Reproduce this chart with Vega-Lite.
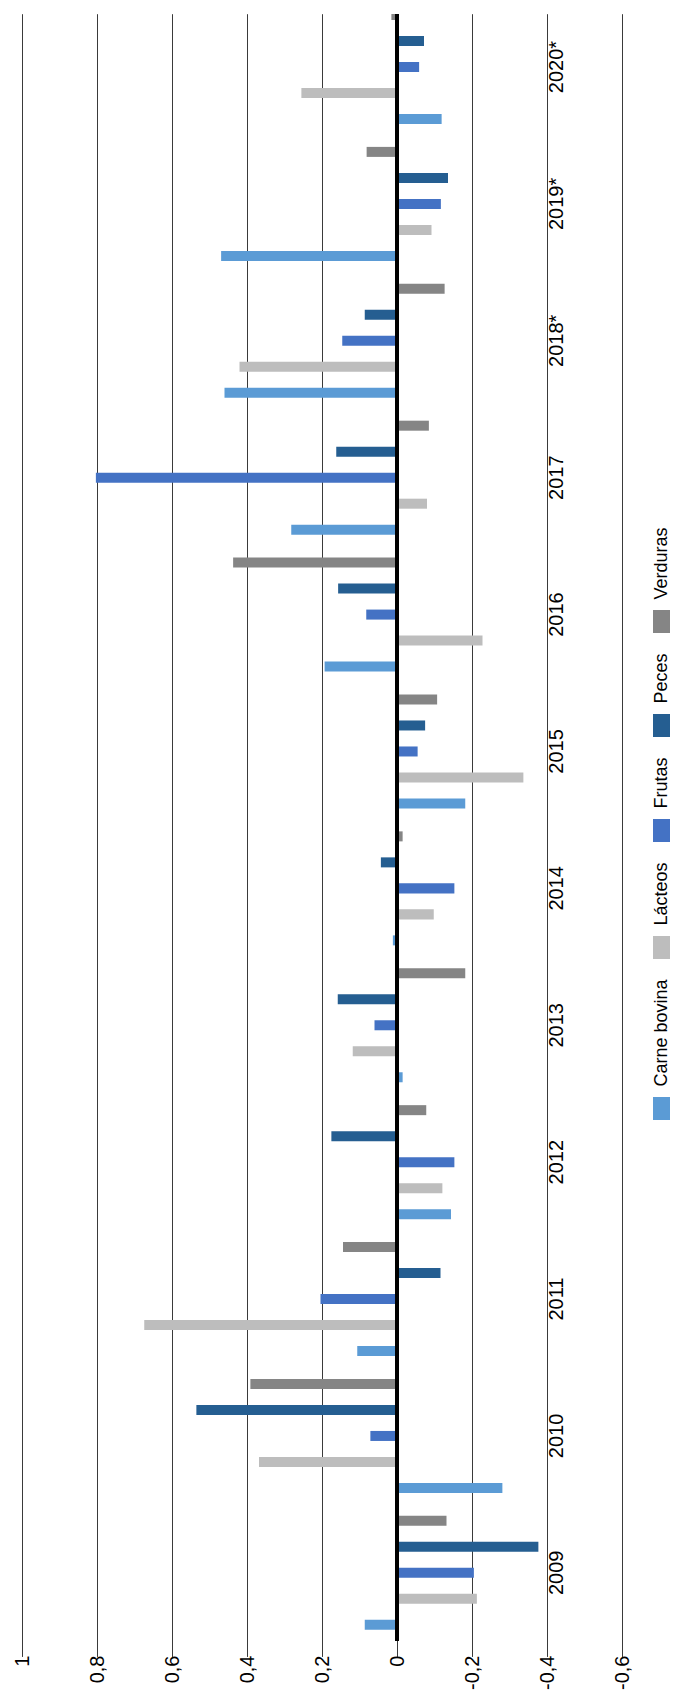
{
  "$schema": "https://vega.github.io/schema/vega-lite/v6.json",
  "width": 600,
  "height": 1627,
  "autosize": {"type": "none"},
  "padding": {"left": 22, "top": 14, "right": 53, "bottom": 52},
  "background": "white",
  "config": {"view": {"stroke": null}, "font": "Liberation Sans"},
  "data": {
    "values": [
      {"anio": "2009", "serie": "Carne bovina", "valor": 0.086},
      {"anio": "2009", "serie": "Lácteos", "valor": -0.213},
      {"anio": "2009", "serie": "Frutas", "valor": -0.205},
      {"anio": "2009", "serie": "Peces", "valor": -0.377},
      {"anio": "2009", "serie": "Verduras", "valor": -0.132},
      {"anio": "2010", "serie": "Carne bovina", "valor": -0.281},
      {"anio": "2010", "serie": "Lácteos", "valor": 0.368},
      {"anio": "2010", "serie": "Frutas", "valor": 0.071},
      {"anio": "2010", "serie": "Peces", "valor": 0.535},
      {"anio": "2010", "serie": "Verduras", "valor": 0.391},
      {"anio": "2011", "serie": "Carne bovina", "valor": 0.106},
      {"anio": "2011", "serie": "Lácteos", "valor": 0.674},
      {"anio": "2011", "serie": "Frutas", "valor": 0.204},
      {"anio": "2011", "serie": "Peces", "valor": -0.116},
      {"anio": "2011", "serie": "Verduras", "valor": 0.144},
      {"anio": "2012", "serie": "Carne bovina", "valor": -0.144},
      {"anio": "2012", "serie": "Lácteos", "valor": -0.121},
      {"anio": "2012", "serie": "Frutas", "valor": -0.153},
      {"anio": "2012", "serie": "Peces", "valor": 0.175},
      {"anio": "2012", "serie": "Verduras", "valor": -0.078},
      {"anio": "2013", "serie": "Carne bovina", "valor": -0.015},
      {"anio": "2013", "serie": "Lácteos", "valor": 0.118},
      {"anio": "2013", "serie": "Frutas", "valor": 0.06},
      {"anio": "2013", "serie": "Peces", "valor": 0.158},
      {"anio": "2013", "serie": "Verduras", "valor": -0.182},
      {"anio": "2014", "serie": "Carne bovina", "valor": 0.011},
      {"anio": "2014", "serie": "Lácteos", "valor": -0.098},
      {"anio": "2014", "serie": "Frutas", "valor": -0.153},
      {"anio": "2014", "serie": "Peces", "valor": 0.043},
      {"anio": "2014", "serie": "Verduras", "valor": -0.015},
      {"anio": "2015", "serie": "Carne bovina", "valor": -0.182},
      {"anio": "2015", "serie": "Lácteos", "valor": -0.337},
      {"anio": "2015", "serie": "Frutas", "valor": -0.055},
      {"anio": "2015", "serie": "Peces", "valor": -0.075},
      {"anio": "2015", "serie": "Verduras", "valor": -0.107},
      {"anio": "2016", "serie": "Carne bovina", "valor": 0.193},
      {"anio": "2016", "serie": "Lácteos", "valor": -0.228},
      {"anio": "2016", "serie": "Frutas", "valor": 0.082},
      {"anio": "2016", "serie": "Peces", "valor": 0.157},
      {"anio": "2016", "serie": "Verduras", "valor": 0.437},
      {"anio": "2017", "serie": "Carne bovina", "valor": 0.282},
      {"anio": "2017", "serie": "Lácteos", "valor": -0.08},
      {"anio": "2017", "serie": "Frutas", "valor": 0.803},
      {"anio": "2017", "serie": "Peces", "valor": 0.162},
      {"anio": "2017", "serie": "Verduras", "valor": -0.085},
      {"anio": "2018*", "serie": "Carne bovina", "valor": 0.46},
      {"anio": "2018*", "serie": "Lácteos", "valor": 0.42},
      {"anio": "2018*", "serie": "Frutas", "valor": 0.146},
      {"anio": "2018*", "serie": "Peces", "valor": 0.086},
      {"anio": "2018*", "serie": "Verduras", "valor": -0.127},
      {"anio": "2019*", "serie": "Carne bovina", "valor": 0.469},
      {"anio": "2019*", "serie": "Lácteos", "valor": -0.092},
      {"anio": "2019*", "serie": "Frutas", "valor": -0.117},
      {"anio": "2019*", "serie": "Peces", "valor": -0.136},
      {"anio": "2019*", "serie": "Verduras", "valor": 0.081},
      {"anio": "2020*", "serie": "Carne bovina", "valor": -0.119},
      {"anio": "2020*", "serie": "Lácteos", "valor": 0.255},
      {"anio": "2020*", "serie": "Frutas", "valor": -0.059},
      {"anio": "2020*", "serie": "Peces", "valor": -0.072},
      {"anio": "2020*", "serie": "Verduras", "valor": 0.015}
    ]
  },
  "layer": [
    {
      "mark": {"type": "bar", "clip": true},
      "encoding": {
        "y": {
          "field": "anio",
          "type": "nominal",
          "sort": ["2020*", "2019*", "2018*", "2017", "2016", "2015", "2014", "2013", "2012", "2011", "2010", "2009"],
          "scale": {"range": [-15.45, 1627.3], "paddingInner": 0, "paddingOuter": 0},
          "axis": null
        },
        "yOffset": {
          "field": "serie",
          "type": "nominal",
          "sort": ["Verduras", "Peces", "Frutas", "Lácteos", "Carne bovina"],
          "scale": {"paddingInner": 0.615, "paddingOuter": 0.44}
        },
        "x": {
          "field": "valor",
          "type": "quantitative",
          "scale": {"domain": [-0.6, 1], "reverse": true, "nice": false, "zero": true},
          "axis": {
            "values": [1, 0.8, 0.6, 0.4, 0.2, 0, -0.2, -0.4, -0.6],
            "labelExpr": "replace(toString(datum.value), '.', ',')",
            "labelAngle": 270,
            "labelFont": "Liberation Sans",
            "labelFontSize": 20,
            "labelColor": "#000000",
            "labelPadding": 14,
            "labelFlush": false,
            "labelOverlap": false,
            "ticks": false,
            "domain": false,
            "grid": true,
            "gridColor": "#3a3a3a",
            "gridWidth": 1,
            "title": null
          }
        },
        "color": {
          "field": "serie",
          "type": "nominal",
          "scale": {
            "domain": ["Carne bovina", "Lácteos", "Frutas", "Peces", "Verduras"],
            "range": ["#5B9BD5", "#BDBDBD", "#4472C4", "#255E91", "#858585"]
          },
          "legend": {
            "orient": "none",
            "legendX": 628,
            "legendY": 596,
            "direction": "vertical",
            "values": ["Verduras", "Peces", "Frutas", "Lácteos", "Carne bovina"],
            "title": null,
            "padding": 0,
            "symbolType": "M-0.739,-1H0.739V1H-0.739Z",
            "symbolSize": 529,
            "symbolStrokeWidth": 0,
            "symbolOpacity": 1,
            "labelFont": "Liberation Sans",
            "labelFontSize": 18,
            "labelColor": "#000000",
            "rowPadding": 20,
            "encode": {
              "labels": {
                "update": {
                  "angle": {"value": 270},
                  "dx": {"value": 22},
                  "x": {"value": 11.5}
                }
              }
            }
          }
        }
      }
    },
    {
      "mark": {"type": "rule", "color": "#000000", "strokeWidth": 3},
      "encoding": {"x": {"datum": 0}}
    },
    {
      "transform": [{"filter": "datum.serie === 'Verduras'"}],
      "mark": {
        "type": "text",
        "angle": 270,
        "align": "center",
        "baseline": "middle",
        "font": "Liberation Sans",
        "fontSize": 20,
        "color": "#000000"
      },
      "encoding": {
        "y": {
          "field": "anio",
          "type": "nominal",
          "sort": ["2020*", "2019*", "2018*", "2017", "2016", "2015", "2014", "2013", "2012", "2011", "2010", "2009"]
        },
        "x": {"datum": -0.427},
        "text": {"field": "anio"}
      }
    }
  ]
}
